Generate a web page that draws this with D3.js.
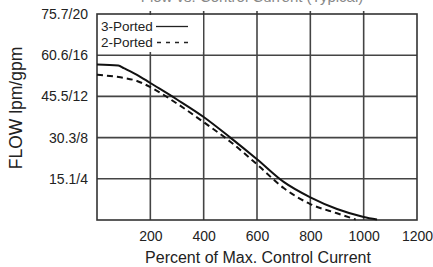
<!DOCTYPE html>
<html><head><meta charset="utf-8">
<script src="https://cdn.jsdelivr.net/npm/d3@7"></script>
<style>body{margin:0;background:#fff}svg{display:block;font-family:"Liberation Sans",Arial,sans-serif}</style>
</head><body><svg id="c" width="433" height="267"></svg>
<script>
const xTicks = [200, 400, 600, 800, 1000, 1200];
const yTicks = [4, 8, 12, 16, 20];
const yTickLabels = ["15.1/4", "30.3/8", "45.5/12", "60.6/16", "75.7/20"];
const current3 = [0, 80, 100, 150, 200, 300, 400, 500, 600, 700, 800, 900, 1000, 1050];
const flow3 = [15.1, 15.0, 14.75, 14.1, 13.3, 11.7, 10.0, 8.0, 5.9, 3.7, 2.2, 1.07, 0.3, 0.05];
const current2 = [0, 75, 100, 150, 200, 300, 400, 500, 600, 700, 800, 900, 970];
const flow2 = [14.1, 13.9, 13.8, 13.5, 12.9, 11.3, 9.5, 7.6, 5.4, 3.1, 1.55, 0.65, 0.05];

const svg = d3.select("#c");
const x = d3.scaleLinear().domain([0, 1200]).range([97, 417]);
const y = d3.scaleLinear().domain([0, 20]).range([220, 14]);

// cropped title
svg.append("text").attr("x", 252).attr("y", 2).attr("text-anchor", "middle")
  .attr("font-size", 15).attr("fill", "#888").text("Flow vs. Control Current (Typical)");

// grid
const grid = svg.append("g").attr("class", "grid");
grid.selectAll("line.v").data(xTicks.slice(0, -1)).join("line").attr("class", "v")
  .attr("x1", d => x(d)).attr("x2", d => x(d)).attr("y1", y(20) - 3).attr("y2", y(0))
  .style("stroke", "#444").style("stroke-width", "1.6px");
grid.selectAll("line.h").data(yTicks.slice(0, -1)).join("line").attr("class", "h")
  .attr("x1", x(0)).attr("x2", x(1200)).attr("y1", d => y(d)).attr("y2", d => y(d))
  .style("stroke", "#444").style("stroke-width", "1.6px");

// legend background
svg.append("rect").attr("x", x(0) + 1).attr("y", y(20) + 1).attr("width", 105).attr("height", 37).attr("fill", "#fff");

svg.append("rect").attr("x", x(0)).attr("y", y(20)).attr("width", x(1200) - x(0)).attr("height", y(0) - y(20))
  .attr("fill", "none").attr("stroke", "#333").attr("stroke-width", 1.6);

// axes labels
const xa = svg.append("g").attr("transform", `translate(0,${y(0)})`)
  .call(d3.axisBottom(x).tickValues(xTicks).tickSize(0).tickPadding(11).tickFormat(d3.format("d")));
xa.select(".domain").remove();
xa.selectAll("text").attr("font-size", 14).attr("fill", "#222").attr("font-family", "Liberation Sans, Arial, sans-serif");
const ya = svg.append("g").attr("transform", `translate(${x(0)},0)`)
  .call(d3.axisLeft(y).tickValues(yTicks).tickSize(0).tickPadding(9).tickFormat((d, i) => yTickLabels[i]));
ya.select(".domain").remove();
ya.selectAll("text").attr("font-size", 14).attr("fill", "#222").attr("font-family", "Liberation Sans, Arial, sans-serif");

svg.append("text").attr("x", 258).attr("y", 263).attr("text-anchor", "middle")
  .attr("font-size", 16).attr("fill", "#222").text("Percent of Max. Control Current");
svg.append("text").attr("transform", "translate(22,108) rotate(-90)").attr("text-anchor", "middle")
  .attr("font-size", 17.5).attr("fill", "#222").text("FLOW lpm/gpm");

// legend
svg.append("text").attr("x", 101).attr("y", 31).attr("font-size", 13.5).attr("fill", "#222").text("3-Ported");
svg.append("text").attr("x", 101).attr("y", 46.5).attr("font-size", 13.5).attr("fill", "#222").text("2-Ported");
svg.append("line").attr("x1", 156).attr("x2", 188).attr("y1", 26.5).attr("y2", 26.5).attr("stroke", "#222").attr("stroke-width", 1.3);
svg.append("line").attr("x1", 157).attr("x2", 190).attr("y1", 42.5).attr("y2", 42.5).attr("stroke", "#222").attr("stroke-width", 1.3).attr("stroke-dasharray", "4,5");

// curves
const line = d3.line().x(d => x(d[0])).y(d => y(d[1])).curve(d3.curveMonotoneX);
svg.append("path").datum(current3.map((c, i) => [c, flow3[i]])).attr("d", line)
  .attr("fill", "none").attr("stroke", "#111").attr("stroke-width", 2);
svg.append("path").datum(current2.map((c, i) => [c, flow2[i]])).attr("d", line)
  .attr("fill", "none").attr("stroke", "#111").attr("stroke-width", 2).attr("stroke-dasharray", "6,4");
</script></body></html>
